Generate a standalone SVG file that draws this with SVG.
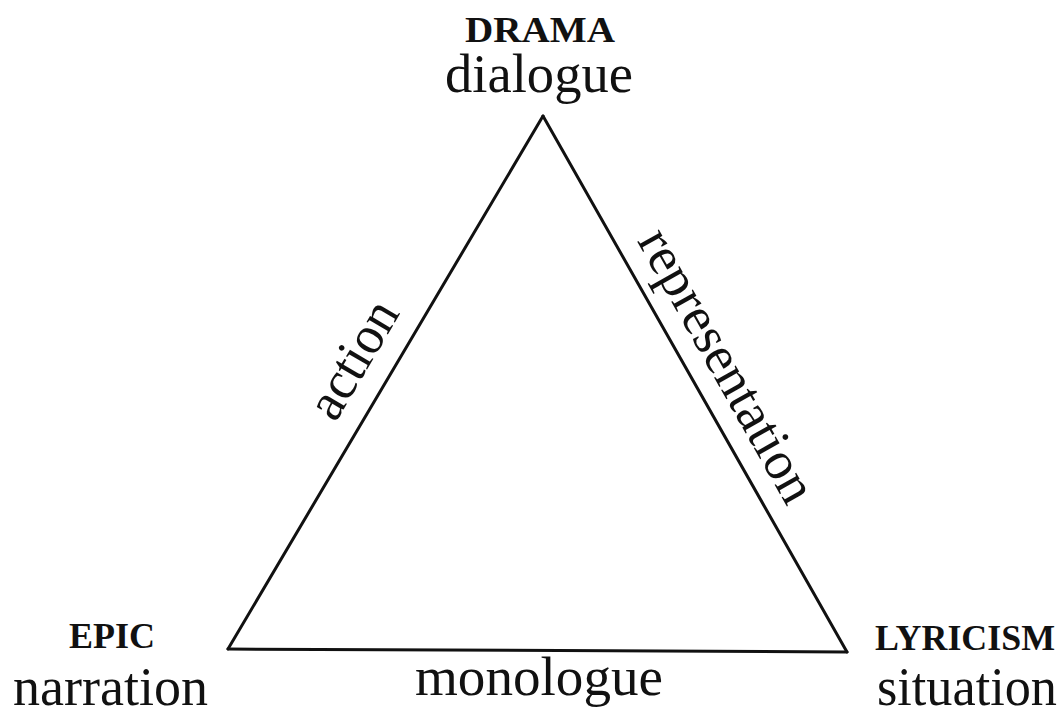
<svg xmlns="http://www.w3.org/2000/svg" width="1063" height="717" viewBox="0 0 1063 717">
<style>
  text { font-family: "Liberation Serif", "DejaVu Serif", serif; fill: #111; }
  .cap { font-size: 35px; font-weight: bold; }
  .big { font-size: 54px; }
  .edge { stroke: #111; stroke-width: 3; fill: none; stroke-linecap: round; stroke-linejoin: miter; }
</style>
<rect width="1063" height="717" fill="#fff"/>
<g id="connectors">
  <line class="edge" x1="543" y1="116" x2="228" y2="649"/>
  <line class="edge" x1="543" y1="116" x2="847" y2="652"/>
  <line class="edge" x1="228" y1="649" x2="847" y2="652"/>
  <text class="big" transform="translate(368,368) rotate(-59.5)" text-anchor="middle" textLength="128" lengthAdjust="spacingAndGlyphs">action</text>
  <text class="big" transform="translate(712,374) rotate(60.5)" text-anchor="middle" textLength="306" lengthAdjust="spacingAndGlyphs">representation</text>
  <text class="big" x="415" y="695" textLength="248" lengthAdjust="spacingAndGlyphs">monologue</text>
</g>
<g id="drama">
  <text class="cap" x="465" y="42" textLength="150" lengthAdjust="spacingAndGlyphs">DRAMA</text>
  <text class="big" x="445" y="92" textLength="188" lengthAdjust="spacingAndGlyphs">dialogue</text>
</g>
<g id="epic">
  <text class="cap" x="69" y="648" textLength="86" lengthAdjust="spacingAndGlyphs">EPIC</text>
  <text class="big" x="13" y="705" textLength="195" lengthAdjust="spacingAndGlyphs">narration</text>
</g>
<g id="lyricism">
  <text class="cap" x="875" y="650" textLength="180" lengthAdjust="spacingAndGlyphs">LYRICISM</text>
  <text class="big" x="877" y="705" textLength="180" lengthAdjust="spacingAndGlyphs">situation</text>
</g>
</svg>
